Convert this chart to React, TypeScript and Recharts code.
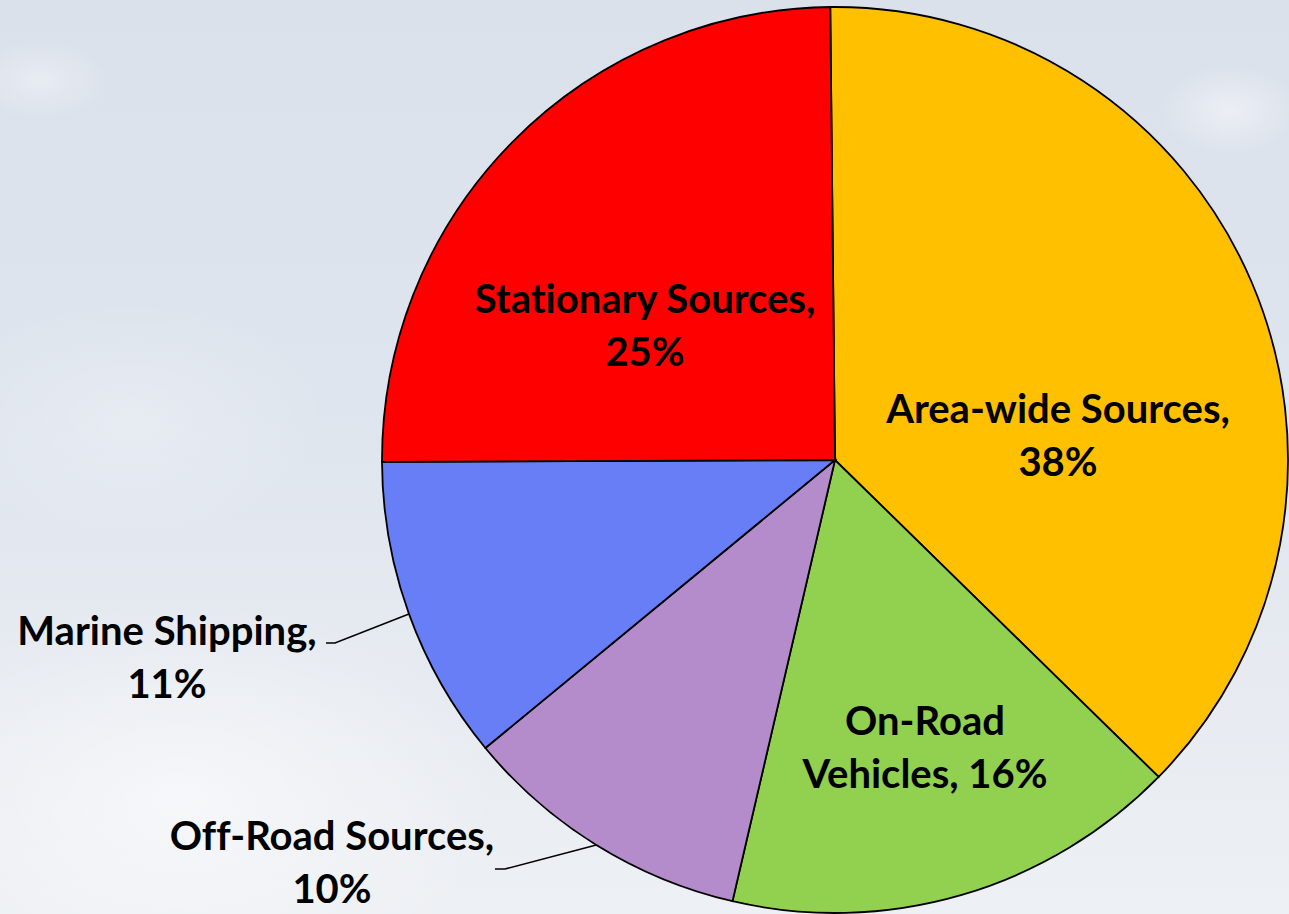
import { PieChart, Pie, Cell } from "recharts";

const CATEGORIES = ["Area-wide Sources", "On-Road Vehicles", "Off-Road Sources", "Marine Shipping", "Stationary Sources"];
const SHARES = [37.5, 16.3, 10.4, 10.9, 24.9];
const LABEL_LINES = [
  ["Area-wide Sources,", "38%"],
  ["On-Road", "Vehicles, 16%"],
  ["Off-Road Sources,", "10%"],
  ["Marine Shipping,", "11%"],
  ["Stationary Sources,", "25%"],
];
const COLORS = ["#ffc000", "#92d050", "#b48bcb", "#677ef6", "#ff0000"];

// label placement relative to pie centre: [x of text centre, baseline of first line]
const LABEL_POS = [
  [223, -37],
  [90, 275],
  [-503, 390],
  [-668, 185],
  [-190, -147],
];
// leader line elbows for the outside labels, relative to pie centre
const ELBOWS: Record<number, [number, number, number]> = {
  2: [-330, 409, -340],
  3: [-500, 183, -509],
};

const W = 1289;
const H = 914;
const LINE_GAP = 53;
const RAD = Math.PI / 180;

const data = CATEGORIES.map((name, i) => ({ name, value: SHARES[i] }));

function renderLabel(props: any) {
  const { cx, cy, midAngle, outerRadius, index } = props;
  const [dx, dy] = LABEL_POS[index];
  const elbow = ELBOWS[index];
  let leader = null;
  if (elbow) {
    const sx = cx + outerRadius * Math.cos(-midAngle * RAD);
    const sy = cy + outerRadius * Math.sin(-midAngle * RAD);
    leader = (
      <polyline
        points={`${sx},${sy} ${cx + elbow[0]},${cy + elbow[1]} ${cx + elbow[2]},${cy + elbow[1]}`}
        fill="none"
        stroke="#000"
        strokeWidth={1.6}
      />
    );
  }
  return (
    <g key={`lbl-${index}`}>
      {leader}
      <text
        x={cx + dx}
        y={cy + dy}
        textAnchor="middle"
        fontFamily="Lato, 'Open Sans', sans-serif"
        fontWeight={700}
        fontSize={40}
        fill="#000"
        style={{ fontVariantLigatures: "none" }}
      >
        {LABEL_LINES[index].map((line, j) => (
          <tspan key={j} x={cx + dx} y={cy + dy + j * LINE_GAP}>
            {line}
          </tspan>
        ))}
      </text>
    </g>
  );
}

export default function App() {
  return (
    <div
      style={{
        position: "absolute",
        left: 0,
        top: 0,
        width: W,
        height: H,
        overflow: "hidden",
        background: [
          "radial-gradient(ellipse 70px 40px at 40px 80px, rgba(255,255,255,0.35), rgba(255,255,255,0))",
          "radial-gradient(ellipse 70px 45px at 1230px 110px, rgba(255,255,255,0.45), rgba(255,255,255,0))",
          "radial-gradient(ellipse 200px 120px at 130px 420px, rgba(255,255,255,0.25), rgba(255,255,255,0))",
          "radial-gradient(ellipse 320px 200px at 180px 800px, rgba(255,255,255,0.55), rgba(255,255,255,0))",
          "linear-gradient(to bottom, #dbe1eb 0%, #dfe5ee 45%, #e7ebf1 75%, #edf0f4 100%)",
        ].join(", "),
      }}
    >
      <PieChart width={W} height={H} margin={{ top: 0, right: 0, bottom: 0, left: 0 }}>
        <Pie
          data={data}
          dataKey="value"
          nameKey="name"
          cx={835}
          cy={460}
          outerRadius={453}
          startAngle={90.6}
          endAngle={-269.4}
          stroke="#000"
          strokeWidth={1.8}
          label={renderLabel}
          labelLine={false}
          isAnimationActive={false}
        >
          {data.map((d, i) => (
            <Cell key={d.name} fill={COLORS[i]} />
          ))}
        </Pie>
      </PieChart>
    </div>
  );
}
